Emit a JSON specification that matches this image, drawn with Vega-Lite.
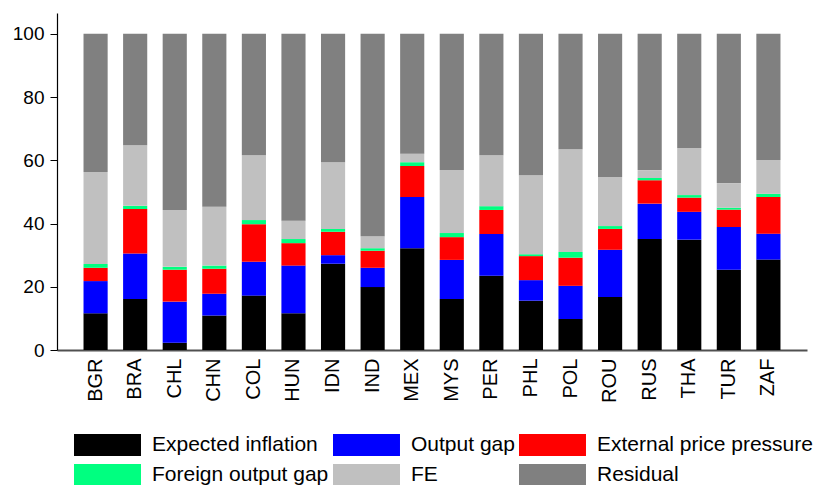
{
  "$schema": "https://vega.github.io/schema/vega-lite/v6.json",
  "autosize": {"type": "none"},
  "padding": {"left": 57, "top": 13, "right": 16, "bottom": 135},
  "width": 750,
  "height": 337,
  "config": {
    "font": "Liberation Sans",
    "view": {"stroke": null}
  },
  "datasets": {
    "raw": [
      {"c":"BGR","a":11.6,"b":10.2,"r":4.2,"g":1.2,"fe":29.1,"res":43.7},
      {"c":"BRA","a":16.1,"b":14.4,"r":14.1,"g":1.0,"fe":19.2,"res":35.2},
      {"c":"CHL","a":2.3,"b":13.0,"r":10.1,"g":0.9,"fe":18.0,"res":55.7},
      {"c":"CHN","a":10.9,"b":6.9,"r":7.9,"g":1.0,"fe":18.6,"res":54.7},
      {"c":"COL","a":17.2,"b":10.7,"r":11.9,"g":1.3,"fe":20.5,"res":38.4},
      {"c":"HUN","a":11.6,"b":15.1,"r":7.1,"g":1.3,"fe":5.8,"res":59.1},
      {"c":"IDN","a":27.3,"b":2.7,"r":7.4,"g":0.9,"fe":21.1,"res":40.6},
      {"c":"IND","a":19.9,"b":6.1,"r":5.4,"g":0.8,"fe":3.8,"res":64.0},
      {"c":"MEX","a":32.2,"b":16.2,"r":9.8,"g":1.2,"fe":2.7,"res":37.9},
      {"c":"MYS","a":16.1,"b":12.4,"r":7.2,"g":1.3,"fe":19.9,"res":43.1},
      {"c":"PER","a":23.5,"b":13.2,"r":7.6,"g":1.2,"fe":16.1,"res":38.4},
      {"c":"PHL","a":15.6,"b":6.5,"r":7.6,"g":0.6,"fe":25.0,"res":44.7},
      {"c":"POL","a":9.8,"b":10.5,"r":8.9,"g":1.8,"fe":32.5,"res":36.5},
      {"c":"ROU","a":16.8,"b":14.9,"r":6.6,"g":0.9,"fe":15.5,"res":45.3},
      {"c":"RUS","a":35.1,"b":11.2,"r":7.4,"g":0.7,"fe":2.5,"res":43.1},
      {"c":"THA","a":34.9,"b":8.8,"r":4.5,"g":0.8,"fe":14.9,"res":36.1},
      {"c":"TUR","a":25.4,"b":13.5,"r":5.5,"g":0.6,"fe":7.8,"res":47.2},
      {"c":"ZAF","a":28.6,"b":8.2,"r":11.6,"g":1.0,"fe":10.7,"res":39.9}
    ]
  },
  "data": {"name": "raw"},
  "transform": [
    {"fold": ["a","b","r","g","fe","res"], "as": ["key","value"]},
    {"lookup": "key", "from": {"data": {"values": [
      {"key":"a","component":"Expected inflation","ord":1},
      {"key":"b","component":"Output gap","ord":2},
      {"key":"r","component":"External price pressure","ord":3},
      {"key":"g","component":"Foreign output gap","ord":4},
      {"key":"fe","component":"FE","ord":5},
      {"key":"res","component":"Residual","ord":6}
    ]}, "key": "key", "fields": ["component","ord"]}}
  ],
  "mark": {"type": "bar"},
  "encoding": {
    "x": {
      "field": "c", "type": "nominal", "sort": null,
      "scale": {"paddingInner": 0.39, "paddingOuter": 0.67},
      "axis": {
        "title": null, "labelAngle": -90, "labelFontSize": 20, "labelColor": "#000000",
        "ticks": false, "labelPadding": 8, "domainColor": "#505050", "domainWidth": 2,
        "labelAlign": "right", "labelBaseline": "middle"
      }
    },
    "y": {
      "field": "value", "type": "quantitative", "stack": "zero",
      "scale": {"domain": [0, 106.6], "nice": false},
      "axis": {
        "title": null, "values": [0,20,40,60,80,100], "grid": false,
        "labelFontSize": 19, "labelColor": "#000000", "tickColor": "#000000",
        "tickSize": 7, "labelPadding": 6, "domainColor": "#000000", "domainWidth": 1.2
      }
    },
    "order": {"field": "ord", "type": "quantitative", "sort": "ascending"},
    "color": {
      "field": "component", "type": "nominal",
      "scale": {
        "domain": ["Expected inflation","Output gap","External price pressure","Foreign output gap","FE","Residual"],
        "range": ["#000000","#0000ff","#ff0000","#00ff80","#c0c0c0","#808080"]
      },
      "legend": {
        "title": null, "orient": "none", "legendX": 17, "legendY": 421,
        "direction": "horizontal", "columns": 3, "columnPadding": 4, "rowPadding": 8,
        "symbolType": "M-1,-1H5.09V1H-1Z", "symbolSize": 484,
        "symbolStrokeWidth": 0, "symbolOpacity": 1,
        "labelFontSize": 21, "labelColor": "#000000", "labelOffset": 56, "labelLimit": 300
      }
    }
  }
}
